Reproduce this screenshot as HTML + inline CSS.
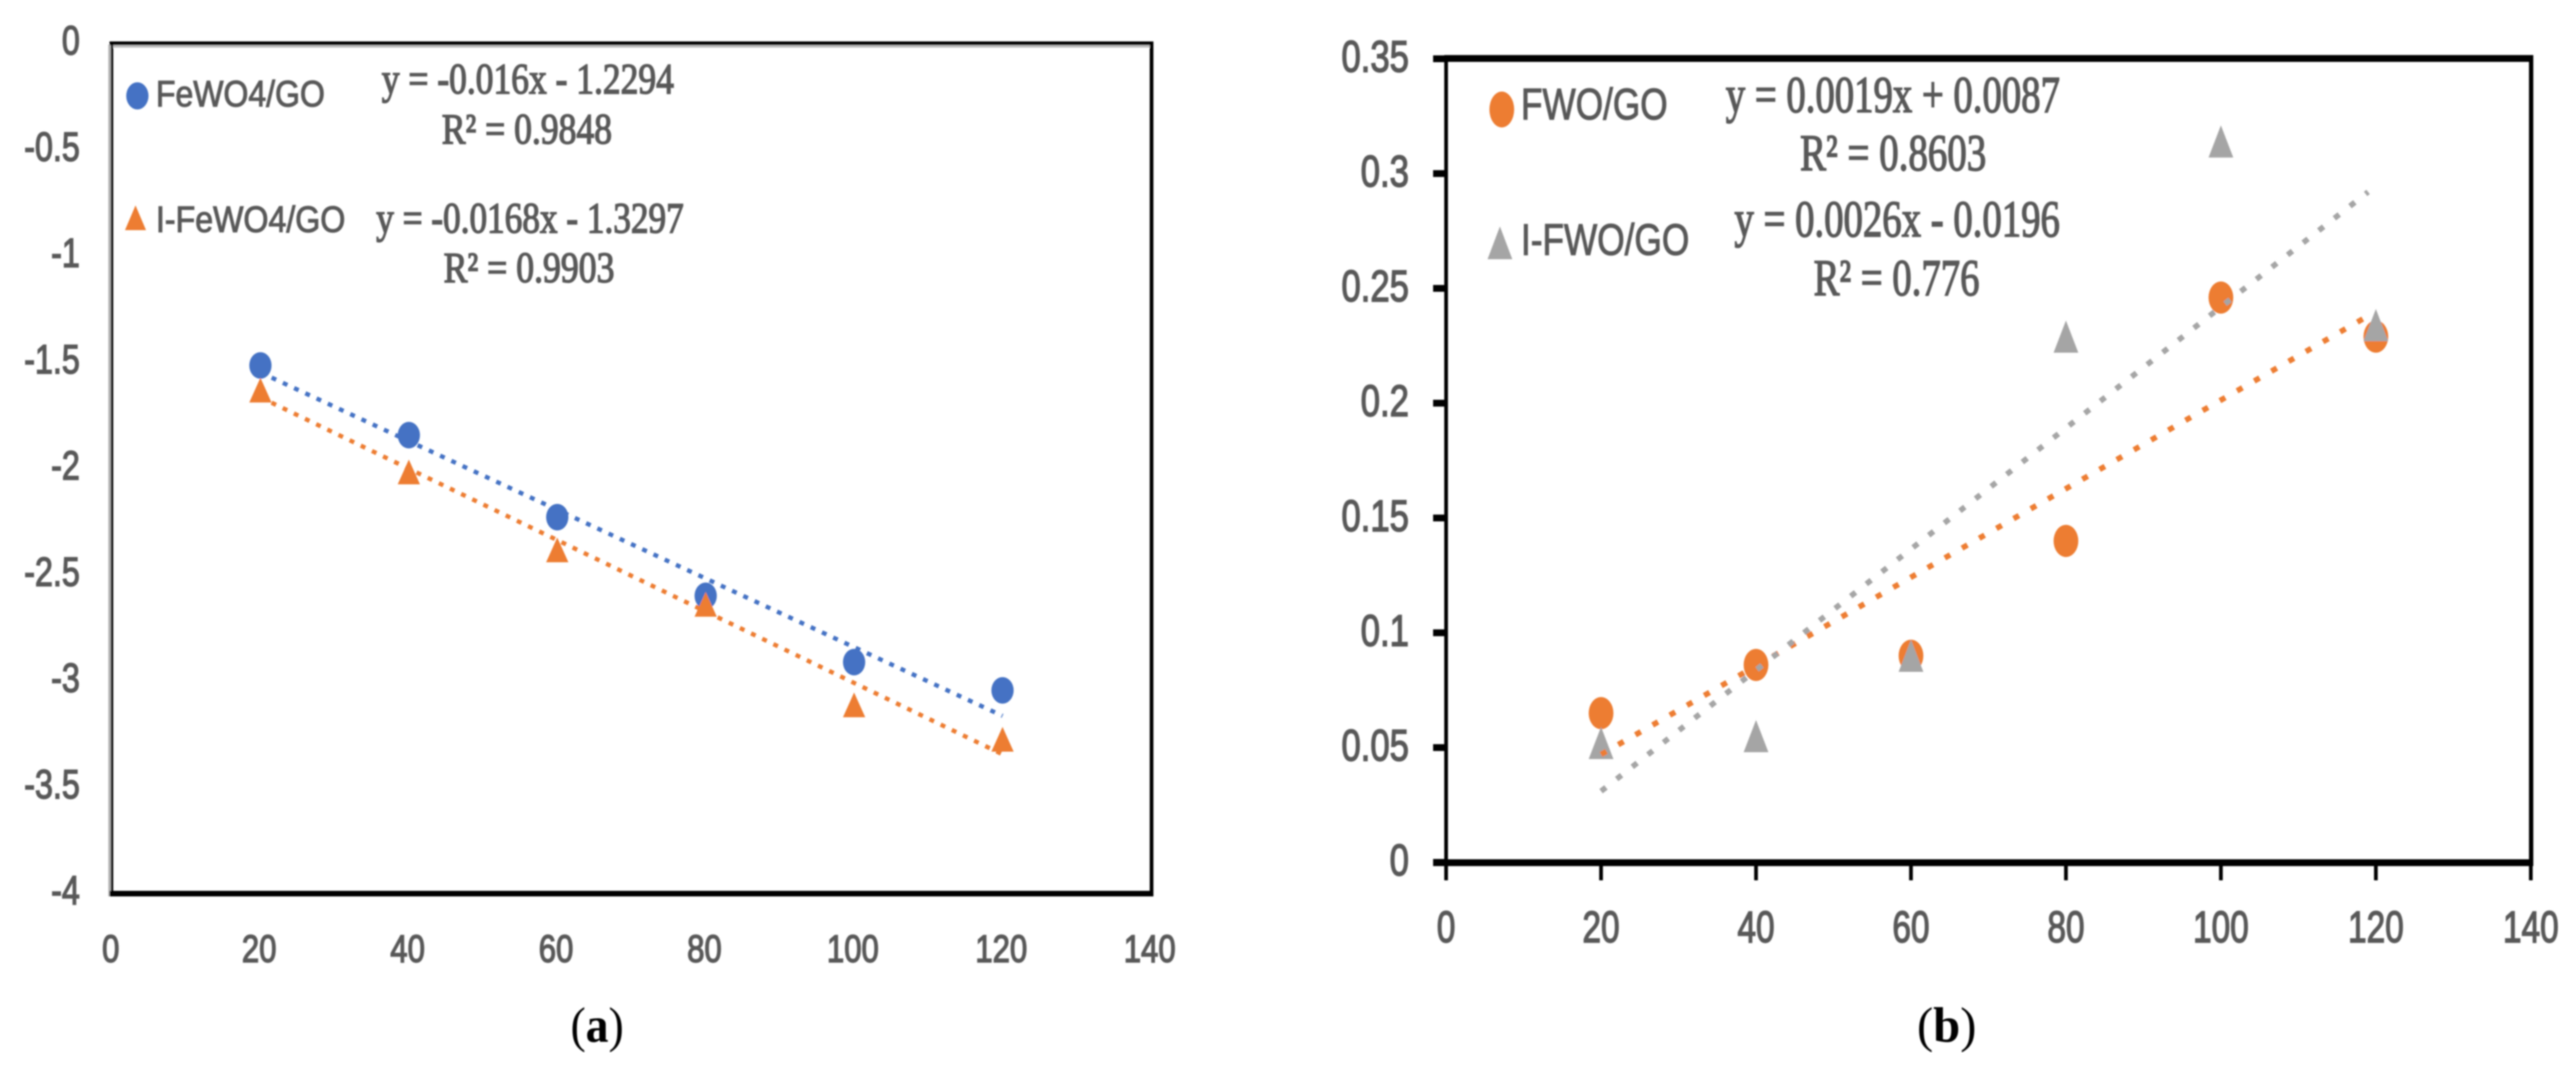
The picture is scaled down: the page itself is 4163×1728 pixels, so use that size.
<!DOCTYPE html>
<html lang="en">
<head>
<meta charset="utf-8">
<title>Kinetic plots (a) and (b)</title>
<style>
  html, body { margin: 0; padding: 0; background: #ffffff; }
  #figure { display: block; }
  .legend { font-family: "Liberation Sans", sans-serif; fill: #595959; stroke: #595959; stroke-width: 1.6; }
  .equation { font-family: "Liberation Serif", serif; fill: #595959; stroke: #595959; stroke-width: 2.2; }
  .caption { font-family: "Liberation Serif", serif; fill: #000000; }
</style>
</head>
<body>
<svg id="figure" xmlns="http://www.w3.org/2000/svg" width="4163" height="1728" viewBox="0 0 4163 1728">
  <defs>
    <filter id="soften" x="0" y="0" width="100%" height="100%" filterUnits="objectBoundingBox">
      <feGaussianBlur stdDeviation="1.2"></feGaussianBlur>
    </filter>
  </defs>
  <rect x="0" y="0" width="4163" height="1728" fill="#ffffff"></rect>
  <g filter="url(#soften)">
    <g id="chart-a">
      <rect x="175" y="72" width="1689" height="5" fill="#bdbdbd"></rect>
      <rect x="175" y="72" width="4" height="1377" fill="#b5b5b5"></rect>
      <rect x="177" y="67" width="1687" height="6" fill="#000000"></rect>
      <rect x="179" y="67" width="4" height="1382" fill="#000000"></rect>
      <rect x="1858" y="67" width="6" height="1382" fill="#000000"></rect>
      <rect x="177" y="1440" width="1687" height="9" fill="#000000"></rect>

      <ellipse cx="222" cy="155" rx="18" ry="22" fill="#4472c4"></ellipse>
      <text class="legend" x="252" y="172" font-size="59" textLength="273" lengthAdjust="spacingAndGlyphs">FeWO4/GO</text>
      <polygon points="219,332 236,372 202,372" fill="#ed7d31"></polygon>
      <text class="legend" x="252" y="375" font-size="59" textLength="306" lengthAdjust="spacingAndGlyphs">I-FeWO4/GO</text>

      <text class="equation" x="617" y="151" font-size="70" textLength="472" lengthAdjust="spacingAndGlyphs">y = -0.016x - 1.2294</text>
      <text class="equation" x="714" y="232" font-size="70" textLength="275" lengthAdjust="spacingAndGlyphs">R² = 0.9848</text>
      <text class="equation" x="608" y="376" font-size="70" textLength="497" lengthAdjust="spacingAndGlyphs">y = -0.0168x - 1.3297</text>
      <text class="equation" x="717" y="456" font-size="70" textLength="276" lengthAdjust="spacingAndGlyphs">R² = 0.9903</text>
    </g>

    <g id="chart-b">
      <rect x="2337" y="89" width="1757" height="11" fill="#000000"></rect>
      <rect x="2334" y="89" width="6" height="1311" fill="#000000"></rect>
      <rect x="4087" y="89" width="7" height="1311" fill="#000000"></rect>
      <rect x="2316" y="1389" width="1778" height="11" fill="#000000"></rect>

      <ellipse cx="2427" cy="177" rx="20" ry="29" fill="#ed7d31"></ellipse>
      <text class="legend" x="2458" y="193" font-size="71" textLength="237" lengthAdjust="spacingAndGlyphs">FWO/GO</text>
      <polygon points="2424,366 2444,419 2404,419" fill="#a5a5a5"></polygon>
      <text class="legend" x="2458" y="412" font-size="71" textLength="272" lengthAdjust="spacingAndGlyphs">I-FWO/GO</text>

      <text class="equation" x="2789" y="181" font-size="84" textLength="540" lengthAdjust="spacingAndGlyphs">y = 0.0019x + 0.0087</text>
      <text class="equation" x="2909" y="275" font-size="84" textLength="301" lengthAdjust="spacingAndGlyphs">R² = 0.8603</text>
      <text class="equation" x="2803" y="382" font-size="84" textLength="526" lengthAdjust="spacingAndGlyphs">y = 0.0026x - 0.0196</text>
      <text class="equation" x="2931" y="477" font-size="84" textLength="268" lengthAdjust="spacingAndGlyphs">R² = 0.776</text>
    </g>

    <text class="caption" x="922" y="1684" font-size="80" textLength="86" lengthAdjust="spacingAndGlyphs">(<tspan font-weight="bold">a</tspan>)</text>
    <text class="caption" x="3098" y="1684" font-size="80" textLength="96" lengthAdjust="spacingAndGlyphs">(<tspan font-weight="bold">b</tspan>)</text>
  </g>
</svg>

<script>
// Shared x categories
const concentrations = [20, 40, 60, 80, 100, 120];

// Chart (a) values
const xTicksA = [0, 20, 40, 60, 80, 100, 120, 140];
const yTicksA = [0, -0.5, -1, -1.5, -2, -2.5, -3, -3.5, -4];
const yTickLabelsA = ['0', '-0.5', '-1', '-1.5', '-2', '-2.5', '-3', '-3.5', '-4'];
const feWO4GO = [-1.516, -1.844, -2.23, -2.6, -2.912, -3.045];
const iFeWO4GO = [-1.632, -2.017, -2.384, -2.64, -3.113, -3.275];
const trendXA = [20, 120];
const trendFeWO4GO = [-1.549, -3.165];
const trendIFeWO4GO = [-1.666, -3.346];

// Chart (b) values
const xTicksB = [0, 20, 40, 60, 80, 100, 120, 140];
const yTicksB = [0, 0.05, 0.1, 0.15, 0.2, 0.25, 0.3, 0.35];
const yTickLabelsB = ['0', '0.05', '0.1', '0.15', '0.2', '0.25', '0.3', '0.35'];
const fwoGO = [0.065, 0.086, 0.09, 0.14, 0.246, 0.229];
const iFwoGO = [0.052, 0.055, 0.09, 0.229, 0.314, 0.234];
const trendXB = [20, 119];
const trendFwoGO = [0.047, 0.238];
const trendIFwoGO = [0.031, 0.292];

// Axis functions
function xA(v) { return 181 + (v / 140) * (1860 - 181); }
function yA(v) { return 70 + (-v / 4) * (1444 - 70); }
function xB(v) { return 2337 + (v / 140) * (4090 - 2337); }
function yB(v) { return 1394 - (v / 0.35) * (1394 - 95); }

const NS = 'http://www.w3.org/2000/svg';
const chartA = document.getElementById('chart-a');
const chartB = document.getElementById('chart-b');

function svgEl(tag, parent, props) {
  const e = document.createElementNS(NS, tag);
  Object.keys(props).forEach(function (k) { e.setAttribute(k, props[k]); });
  parent.appendChild(e);
  return e;
}

function tickText(parent, x, y, str, size, anchor, squeeze) {
  const t = svgEl('text', parent, {
    transform: 'translate(' + x + ' ' + y + ') scale(' + squeeze + ' 1)',
    'font-family': '"Liberation Sans", sans-serif',
    'font-size': size,
    'text-anchor': anchor,
    fill: '#595959',
    stroke: '#595959',
    'stroke-width': 2.2
  });
  t.textContent = str;
  return t;
}

function circleMark(parent, cx, cy, rx, ry, fill) {
  return svgEl('ellipse', parent, { cx: cx, cy: cy, rx: rx, ry: ry, fill: fill });
}

function triangleMark(parent, cx, cy, w, h, fill) {
  const pts = [cx + ',' + (cy - h / 2), (cx + w / 2) + ',' + (cy + h / 2), (cx - w / 2) + ',' + (cy + h / 2)].join(' ');
  return svgEl('polygon', parent, { points: pts, fill: fill });
}

function dottedTrend(parent, x1, y1, x2, y2, color, width, dash) {
  return svgEl('line', parent, {
    x1: x1, y1: y1, x2: x2, y2: y2,
    stroke: color, 'stroke-width': width, 'stroke-dasharray': dash
  });
}

// Chart (a) tick labels
xTicksA.forEach(function (v) {
  const t = tickText(chartA, xA(v) - 2, 1555, String(v), 62, 'middle', 0.81);
  
  
});
yTicksA.forEach(function (v, i) {
  const t = tickText(chartA, 129, yA(v) + 18, yTickLabelsA[i], 66, 'end', 0.79);
  
  
});

// Chart (a) marks
concentrations.forEach(function (c, i) {
  const m = circleMark(chartA, xA(c), yA(feWO4GO[i]), 18, 21.5, '#4472c4');
  
  
});
concentrations.forEach(function (c, i) {
  const m = triangleMark(chartA, xA(c), yA(iFeWO4GO[i]), 36, 40, '#ed7d31');
  
  
});
const trendA1 = dottedTrend(chartA, xA(trendXA[0]), yA(trendFeWO4GO[0]), xA(trendXA[1]), yA(trendFeWO4GO[1]), '#4472c4', 7, '8 12');


const trendA2 = dottedTrend(chartA, xA(trendXA[0]), yA(trendIFeWO4GO[0]), xA(trendXA[1]), yA(trendIFeWO4GO[1]), '#ed7d31', 7, '8 12');



// Chart (b) ticks and labels
xTicksB.forEach(function (v) {
  const tick = svgEl('rect', chartB, { x: xB(v) - 3, y: 1400, width: 6, height: 23, fill: '#000000' });
  
  
  const t = tickText(chartB, xB(v), 1523, String(v), 71, 'middle', 0.76);
  
  
});
yTicksB.forEach(function (v, i) {
  const tick = svgEl('rect', chartB, { x: 2316, y: yB(v) - 5.5, width: 21, height: 11, fill: '#000000' });
  
  
  const t = tickText(chartB, 2277, yB(v) + 21, yTickLabelsB[i], 71, 'end', 0.79);
  
  
});

// Chart (b) marks
concentrations.forEach(function (c, i) {
  const m = circleMark(chartB, xB(c), yB(fwoGO[i]), 20, 26, '#ed7d31');
  
  
});
concentrations.forEach(function (c, i) {
  const m = triangleMark(chartB, xB(c), yB(iFwoGO[i]), 40, 52, '#a5a5a5');
  
  
});
const trendB1 = dottedTrend(chartB, xB(trendXB[0]), yB(trendFwoGO[0]), xB(trendXB[1]), yB(trendFwoGO[1]), '#ed7d31', 9, '10 22');


const trendB2 = dottedTrend(chartB, xB(trendXB[0]), yB(trendIFwoGO[0]), xB(trendXB[1]), yB(trendIFwoGO[1]), '#a5a5a5', 9, '10 22');


</script>
</body>
</html>
